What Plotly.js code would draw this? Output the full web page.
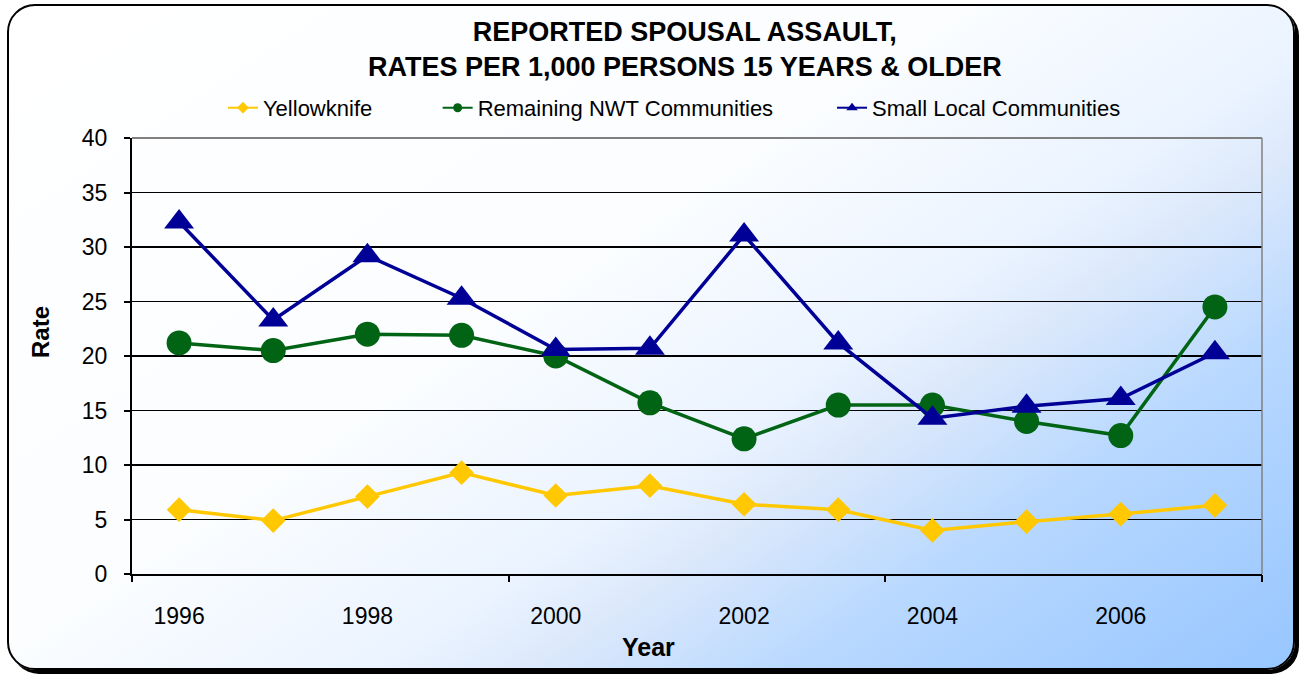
<!DOCTYPE html>
<html>
<head>
<meta charset="utf-8">
<script src="https://cdn.plot.ly/plotly-3.0.1.min.js"></script>
<style>
  html, body { margin: 0; padding: 0; background: #ffffff; }
  #wrap { position: relative; width: 1302px; height: 675px; overflow: hidden; }
  #frame {
    position: absolute; left: 7px; top: 4px; width: 1284px; height: 662px;
    border: 2px solid #000; border-radius: 28px;
    box-shadow: 4px 4px 0 #000;
    background: linear-gradient(146deg, #ffffff 0%, #fbfdff 42%, #eaf3ff 60%, #dde9fb 66%, #b8d8ff 78%, #97c6ff 100%);
  }
  #chart { position: absolute; left: 0; top: 0; width: 1302px; height: 675px; }
</style>
</head>
<body>
<div id="wrap">
  <div id="frame"></div>
  <div id="chart"></div>
</div>
<script>
// ---- data ----
const years = [1996, 1997, 1998, 1999, 2000, 2001, 2002, 2003, 2004, 2005, 2006, 2007];
const yellowknife = [5.9, 4.9, 7.1, 9.3, 7.2, 8.1, 6.4, 5.9, 4.0, 4.8, 5.5, 6.3];
const remainingNWT = [21.2, 20.5, 22.0, 21.9, 20.0, 15.7, 12.4, 15.5, 15.5, 14.0, 12.7, 24.5];
const smallLocal = [32.3, 23.3, 29.2, 25.3, 20.6, 20.7, 31.1, 21.2, 14.3, 15.4, 16.1, 20.3];
const seriesNames = ['Yellowknife', 'Remaining NWT Communities', 'Small Local Communities'];
const xTickVals = [1996, 1998, 2000, 2002, 2004, 2006];
const xTickText = ['1996', '1998', '2000', '2002', '2004', '2006'];
const xMarkVals = [1995.5, 1999.5, 2003.5, 2007.5];
const yTickVals = [0, 5, 10, 15, 20, 25, 30, 35, 40];

const FONT = 'Liberation Sans, Arial, sans-serif';
const cYellow = '#FFC800', cGreen = '#006414', cNavy = '#000096';

const traces = [
  { x: years, y: yellowknife, name: seriesNames[0], mode: 'lines+markers', showlegend: false,
    line: { color: cYellow, width: 3.5 }, marker: { symbol: 'diamond', size: 19, color: cYellow } },
  { x: years, y: remainingNWT, name: seriesNames[1], mode: 'lines+markers', showlegend: false,
    line: { color: cGreen, width: 3.5 }, marker: { symbol: 'circle', size: 25, color: cGreen } },
  { x: years, y: smallLocal, name: seriesNames[2], mode: 'lines+markers', showlegend: false,
    line: { color: cNavy, width: 3.5 }, marker: { symbol: 'triangle-up', size: 26, color: cNavy } },
  // legend entries (small markers like the original)
  { x: [null], y: [null], name: seriesNames[0], mode: 'lines+markers', legend: 'legend',
    line: { color: cYellow, width: 2 }, marker: { symbol: 'diamond', size: 9, color: cYellow } },
  { x: [null], y: [null], name: seriesNames[1], mode: 'lines+markers', legend: 'legend2',
    line: { color: cGreen, width: 2 }, marker: { symbol: 'circle', size: 9, color: cGreen } },
  { x: [null], y: [null], name: seriesNames[2], mode: 'lines+markers', legend: 'legend3',
    line: { color: cNavy, width: 2 }, marker: { symbol: 'triangle-up', size: 10, color: cNavy } },
  // carrier for the tick-mark axis
  { x: [null], y: [null], xaxis: 'x2', showlegend: false, hoverinfo: 'skip', mode: 'markers' }
];

function legendAt(xp) {
  return { x: xp, xanchor: 'left', y: 1.069, yanchor: 'middle', orientation: 'h',
           bgcolor: 'rgba(0,0,0,0)', borderwidth: 0,
           font: { family: FONT, size: 22, color: '#000' } };
}

const layout = {
  width: 1302, height: 675,
  paper_bgcolor: 'rgba(0,0,0,0)', plot_bgcolor: 'rgba(0,0,0,0)',
  margin: { l: 132, r: 40, t: 138, b: 101 },
  font: { family: FONT, color: '#000' },
  title: {
    text: '<b>REPORTED SPOUSAL ASSAULT,<br>RATES PER 1,000 PERSONS 15 YEARS &amp; OLDER</b>',
    font: { family: FONT, size: 27, color: '#000' },
    x: 0.526, xanchor: 'center', y: 0.939, yanchor: 'top', yref: 'container'
  },
  legend: legendAt(0.0805),
  legend2: legendAt(0.2705),
  legend3: legendAt(0.6195),
  xaxis: {
    range: [1995.5, 2007.5], tickvals: xTickVals, ticktext: xTickText,
    ticks: '', showgrid: false, zeroline: false,
    showline: true, linecolor: '#000', linewidth: 2,
    tickfont: { family: FONT, size: 23, color: '#000' },
    ticklabelstandoff: 20
  },
  xaxis2: {
    overlaying: 'x', anchor: 'y', side: 'bottom',
    range: [1995.5, 2007.5], tickvals: xMarkVals, ticktext: ['', '', '', ''],
    ticks: 'outside', ticklen: 7, tickwidth: 2, tickcolor: '#000',
    showgrid: false, zeroline: false, showline: false
  },
  yaxis: {
    range: [0, 40], tickvals: yTickVals,
    ticks: 'outside', ticklen: 6, tickwidth: 2, tickcolor: '#000',
    showgrid: true, gridcolor: '#000', gridwidth: 1.5, zeroline: false,
    showline: true, linecolor: '#000', linewidth: 2,
    tickfont: { family: FONT, size: 23, color: '#000' },
    ticklabelstandoff: 12
  },
  annotations: [
    { text: '<b>Year</b>', xref: 'paper', yref: 'paper', x: 0.4575, y: -0.168,
      xanchor: 'center', yanchor: 'middle', showarrow: false,
      font: { family: FONT, size: 25, color: '#000' } },
    { text: '<b>Rate</b>', xref: 'paper', yref: 'paper', x: -0.0814, y: 0.555,
      xanchor: 'center', yanchor: 'middle', showarrow: false, textangle: -90,
      font: { family: FONT, size: 24, color: '#000' } }
  ],
  shapes: [
    { type: 'line', xref: 'paper', yref: 'paper', x0: 0, x1: 1, y0: 1, y1: 1,
      line: { color: '#808080', width: 2 } },
    { type: 'line', xref: 'paper', yref: 'paper', x0: 1, x1: 1, y0: 0, y1: 1,
      line: { color: '#808080', width: 1.5 } }
  ]
};

Plotly.newPlot('chart', traces, layout, { displayModeBar: false, staticPlot: true });
</script>
</body>
</html>
